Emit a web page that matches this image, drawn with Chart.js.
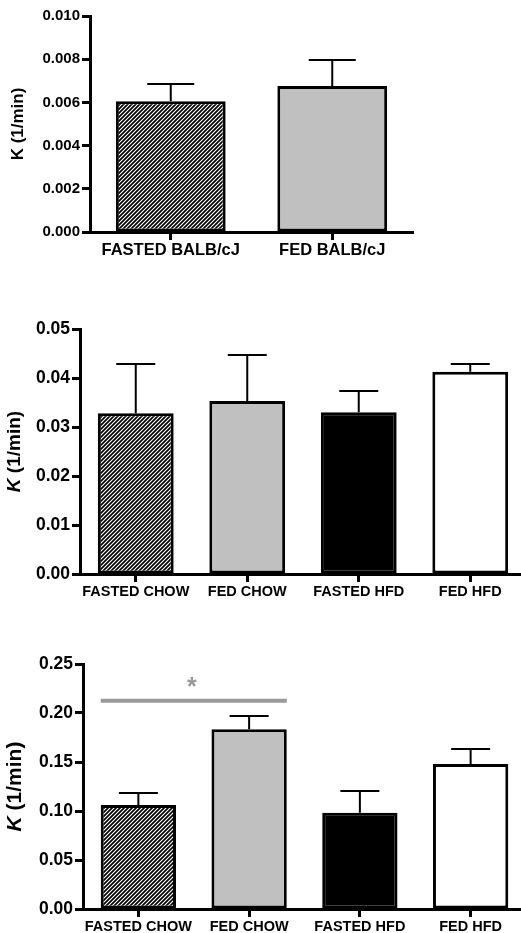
<!DOCTYPE html>
<html>
<head>
<meta charset="utf-8">
<script src="https://cdn.jsdelivr.net/npm/chart.js@4.4.1/dist/chart.umd.min.js"></script>
<style>
  html, body { margin: 0; padding: 0; background: #fff; overflow: hidden; }
  #page { position: relative; width: 521px; height: 933px; overflow: hidden; }
  canvas { position: absolute; left: 0; }
</style>
</head>
<body>
<div id="page">
  <canvas id="chart-balb" width="521" height="270" style="top:0"></canvas>
  <canvas id="chart-mid" width="530" height="310" style="top:290px"></canvas>
  <canvas id="chart-bot" width="530" height="313" style="top:620px"></canvas>
</div>
<script>
const balbCategories = ['FASTED BALB/cJ', 'FED BALB/cJ'];
const balbMeans = [0.00605, 0.00676];
const balbErrors = [0.00082, 0.00122];
const balbTicks = [0, 0.002, 0.004, 0.006, 0.008, 0.010];

const dietCategories = ['FASTED CHOW', 'FED CHOW', 'FASTED HFD', 'FED HFD'];

const midMeans = [0.0328, 0.0353, 0.0330, 0.0413];
const midErrors = [0.0100, 0.0093, 0.0043, 0.0016];
const midTicks = [0, 0.01, 0.02, 0.03, 0.04, 0.05];

const botMeans = [0.106, 0.1834, 0.0982, 0.148];
const botErrors = [0.0123, 0.0139, 0.0218, 0.0153];
const botTicks = [0, 0.05, 0.10, 0.15, 0.20, 0.25];
const botSignifPair = [0, 1];
const botSignifLevel = 0.2124;

const FONT = 'Arial, "Liberation Sans", Helvetica, sans-serif';

// diagonal hatch used by the "fasted" bars
function hatchPattern() {
  const c = document.createElement('canvas');
  c.width = 4;
  c.height = 4;
  const g = c.getContext('2d');
  g.fillStyle = '#fff';
  g.fillRect(0, 0, 4, 4);
  g.strokeStyle = '#000';
  g.lineWidth = 1.7;
  g.beginPath();
  g.moveTo(-1, 5); g.lineTo(5, -1);
  g.moveTo(-3, 3); g.lineTo(3, -3);
  g.moveTo(1, 7); g.lineTo(7, 1);
  g.stroke();
  return g.createPattern(c, 'repeat');
}

const errorBars = {
  id: 'errorBars',
  afterDatasetsDraw(chart, args, opts) {
    const ctx = chart.ctx;
    const y = chart.scales.y;
    const values = chart.data.datasets[0].data;
    ctx.save();
    ctx.strokeStyle = '#000';
    ctx.lineWidth = 2;
    chart.getDatasetMeta(0).data.forEach((bar, i) => {
      const top = Math.round(y.getPixelForValue(values[i] + opts.errors[i]));
      ctx.beginPath();
      ctx.moveTo(bar.x, bar.y);
      ctx.lineTo(bar.x, top);
      ctx.moveTo(bar.x - opts.capWidth / 2, top);
      ctx.lineTo(bar.x + opts.capWidth / 2, top);
      ctx.stroke();
    });
    ctx.restore();
  }
};

const yTitle = {
  id: 'yTitle',
  afterDraw(chart, args, opts) {
    const ctx = chart.ctx;
    const area = chart.chartArea;
    const fontFor = p => (p.italic ? 'italic ' : '') + 'bold ' + opts.size + 'px ' + FONT;
    ctx.save();
    ctx.translate(opts.x, (area.top + area.bottom) / 2);
    ctx.rotate(-Math.PI / 2);
    ctx.fillStyle = '#000';
    ctx.textBaseline = 'middle';
    ctx.textAlign = 'left';
    let total = 0;
    opts.parts.forEach(p => { ctx.font = fontFor(p); total += ctx.measureText(p.text).width; });
    let pos = -total / 2;
    opts.parts.forEach(p => {
      ctx.font = fontFor(p);
      ctx.fillText(p.text, pos, 0);
      pos += ctx.measureText(p.text).width;
    });
    ctx.restore();
  }
};

const significance = {
  id: 'significance',
  afterDatasetsDraw(chart, args, opts) {
    if (!opts.pair) {
      return;
    }
    const ctx = chart.ctx;
    const meta = chart.getDatasetMeta(0);
    const a = meta.data[opts.pair[0]];
    const b = meta.data[opts.pair[1]];
    const x1 = a.x - a.width / 2;
    const x2 = b.x + b.width / 2;
    const y = chart.scales.y.getPixelForValue(opts.level);
    ctx.save();
    ctx.strokeStyle = '#999';
    ctx.lineWidth = 4;
    ctx.beginPath();
    ctx.moveTo(x1, y);
    ctx.lineTo(x2, y);
    ctx.stroke();
    ctx.fillStyle = '#999';
    ctx.font = 'bold 25px ' + FONT;
    ctx.textAlign = 'center';
    ctx.textBaseline = 'alphabetic';
    ctx.fillText(opts.label, (x1 + x2) / 2 - 2, y - 6);
    ctx.restore();
  }
};

function makeChart(id, cfg) {
  const tickFont = {family: FONT, size: cfg.tickSize, weight: 'bold'};
  const labelFont = {family: FONT, size: cfg.labelSize, weight: 'bold'};

  return new Chart(document.getElementById(id).getContext('2d'), {
    type: 'bar',
    data: {
      labels: cfg.labels,
      datasets: [{
        data: cfg.means,
        backgroundColor: cfg.fills,
        borderColor: '#000',
        borderWidth: 3,
        borderSkipped: false,
        barPercentage: 0.68,
        categoryPercentage: 1
      }]
    },
    options: {
      responsive: false,
      animation: false,
      events: [],
      layout: {
        padding: {top: cfg.padTop, right: cfg.padRight, left: 0, bottom: 0}
      },
      plugins: {
        legend: {display: false},
        tooltip: {enabled: false},
        errorBars: {errors: cfg.errors, capWidth: cfg.capWidth},
        yTitle: {x: cfg.titleX, size: cfg.titleSize, parts: cfg.titleParts},
        significance: cfg.significance || {}
      },
      scales: {
        x: {
          offset: true,
          grid: {drawOnChartArea: false, offset: false, tickLength: 8, tickWidth: 3, tickColor: '#000'},
          border: {color: '#000', width: 3},
          ticks: {color: '#000', font: labelFont, padding: 1, maxRotation: 0, autoSkip: false},
          afterFit: s => { s.height = cfg.xHeight; }
        },
        y: {
          min: 0,
          max: cfg.ticks[cfg.ticks.length - 1],
          grid: {drawOnChartArea: false, tickLength: 8, tickWidth: 3, tickColor: '#000'},
          border: {color: '#000', width: 3},
          ticks: {
            color: '#000',
            font: tickFont,
            padding: 2,
            callback: v => v.toFixed(cfg.decimals)
          },
          afterBuildTicks: s => { s.ticks = cfg.ticks.map(v => ({value: v})); },
          afterFit: s => { s.width = cfg.yWidth; }
        }
      }
    },
    plugins: [errorBars, yTitle, significance]
  });
}

const hatch = hatchPattern();

makeChart('chart-balb', {
  labels: balbCategories,
  means: balbMeans,
  errors: balbErrors,
  ticks: balbTicks,
  fills: [hatch, '#c0c0c0'],
  decimals: 3,
  tickSize: 15,
  labelSize: 16.5,
  titleSize: 17,
  titleX: 18,
  titleParts: [{text: 'K (1/min)', italic: false}],
  capWidth: 47,
  yWidth: 90,
  xHeight: 38,
  padTop: 16,
  padRight: 108
});

makeChart('chart-mid', {
  labels: dietCategories,
  means: midMeans,
  errors: midErrors,
  ticks: midTicks,
  fills: [hatch, '#c0c0c0', '#000', '#fff'],
  decimals: 2,
  tickSize: 17.5,
  labelSize: 14.5,
  titleSize: 19,
  titleX: 15,
  titleParts: [{text: 'K', italic: true}, {text: ' (1/min)', italic: false}],
  capWidth: 39,
  yWidth: 80,
  xHeight: 26,
  padTop: 39,
  padRight: 4
});

makeChart('chart-bot', {
  labels: dietCategories,
  means: botMeans,
  errors: botErrors,
  ticks: botTicks,
  fills: [hatch, '#c0c0c0', '#000', '#fff'],
  decimals: 2,
  tickSize: 17.5,
  labelSize: 14.5,
  titleSize: 21,
  titleX: 15,
  titleParts: [{text: 'K', italic: true}, {text: ' (1/min)', italic: false}],
  capWidth: 39,
  yWidth: 83,
  xHeight: 24,
  padTop: 44,
  padRight: 4,
  significance: {pair: botSignifPair, level: botSignifLevel, label: '*'}
});
</script>
</body>
</html>
